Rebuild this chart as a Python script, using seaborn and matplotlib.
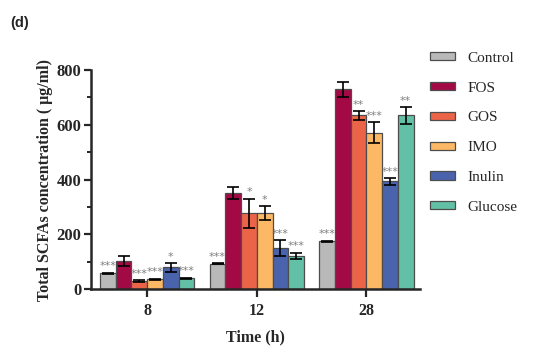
import numpy as np
import pandas as pd
import matplotlib
matplotlib.use("Agg")
import matplotlib.pyplot as plt
import seaborn as sns
from matplotlib.ticker import MultipleLocator
from matplotlib.patches import Patch

# ---- data ----
times = ["8", "12", "28"]
groups = ["Control", "FOS", "GOS", "IMO", "Inulin", "Glucose"]
means = {
    "Control": [59, 93, 175],
    "FOS":     [104, 351, 729],
    "GOS":     [30, 277, 634],
    "IMO":     [37, 277, 571],
    "Inulin":  [80, 150, 394],
    "Glucose": [40, 122, 634],
}
errs = {
    "Control": [2, 2, 2],
    "FOS":     [19, 21, 27],
    "GOS":     [4, 53, 16],
    "IMO":     [2, 26, 38],
    "Inulin":  [16, 29, 12],
    "Glucose": [2, 12, 30],
}
sig = {
    "Control": ["***", "***", "***"],
    "FOS":     ["", "", ""],
    "GOS":     ["***", "*", "**"],
    "IMO":     ["***", "*", "***"],
    "Inulin":  ["*", "***", "***"],
    "Glucose": ["***", "***", "**"],
}
colors = ["#b9b9b9", "#a30a45", "#ec6448", "#fdb865", "#4a63ad", "#62c0a6"]

rows = []
for g in groups:
    for i, t in enumerate(times):
        rows.append({"Time": t, "Group": g, "Value": means[g][i],
                     "Err": errs[g][i], "Sig": sig[g][i]})
df = pd.DataFrame(rows)

sns.set_style("ticks")
plt.rcParams["font.family"] = ["Liberation Serif", "DejaVu Serif"]

fig = plt.figure(figsize=(5.5, 3.55), dpi=100)
ax = fig.add_axes([0.166, 0.185, 0.598, 0.618])

sns.barplot(data=df, x="Time", y="Value", hue="Group", order=times,
            hue_order=groups, palette=colors, errorbar=None, width=0.86,
            edgecolor="#4d4d4d", linewidth=0.9, saturation=1, ax=ax,
            legend=False)

# error bars and significance marks at bar centres
for gi, g in enumerate(groups):
    cont = ax.containers[gi]
    for ti, bar in enumerate(cont.patches):
        x = bar.get_x() + bar.get_width() / 2
        m = means[g][ti]
        e = errs[g][ti]
        ax.errorbar(x, m, yerr=e, fmt="none", ecolor="black",
                    elinewidth=1.2, capsize=4, capthick=1.2, zorder=5)
        s = sig[g][ti]
        if s:
            ax.text(x, m + e + 5, s, ha="center", va="bottom",
                    fontsize=8, color="#7f7f7f", family="DejaVu Sans")

ax.set_ylim(0, 800)
ax.set_xlim(-0.51, 2.49)
ax.yaxis.set_major_locator(MultipleLocator(200))
ax.yaxis.set_minor_locator(MultipleLocator(100))
for sp in ["top", "right"]:
    ax.spines[sp].set_visible(False)
for sp in ["left", "bottom"]:
    ax.spines[sp].set_linewidth(1.8)
ax.tick_params(axis="y", which="major", length=5, width=1.6, labelsize=12, pad=2)
ax.tick_params(axis="y", which="minor", length=3, width=1.4)
ax.tick_params(axis="x", which="major", length=6, width=1.6, labelsize=11.5, pad=4)
for lab in ax.get_xticklabels() + ax.get_yticklabels():
    lab.set_fontweight("bold")

ax.set_xlabel("Time (h)", fontsize=11.5, fontweight="bold", labelpad=7)
ax.set_ylabel("Total SCFAs concentration ( μg/ml)", fontsize=11.5,
              fontweight="bold", labelpad=3)

handles = [Patch(facecolor=c, edgecolor="#4d4d4d", linewidth=0.9) for c in colors]
fig.legend(handles, groups, loc="upper left", bbox_to_anchor=(0.757, 0.893),
           frameon=False, fontsize=11, handlelength=1.6, handleheight=0.45,
           labelspacing=1.1, handletextpad=0.85)

fig.text(0.018, 0.925, "(d)", fontsize=10.5, fontweight="bold",
         family="Liberation Sans")

fig.savefig("out.png", dpi=100)
